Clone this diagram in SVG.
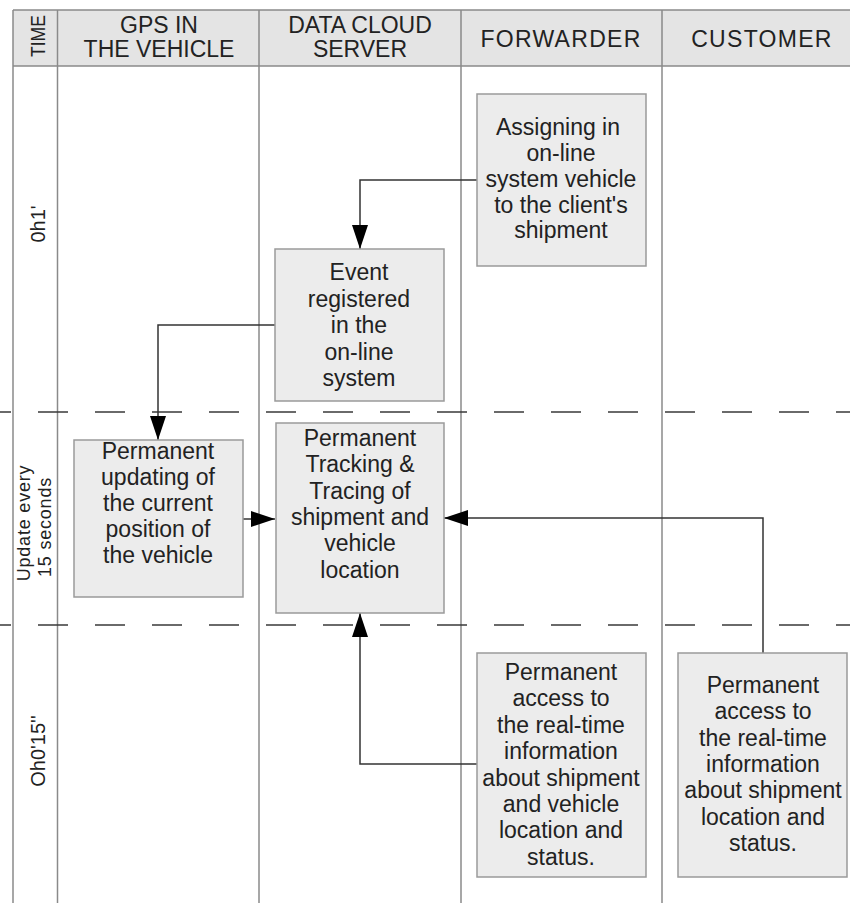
<svg xmlns="http://www.w3.org/2000/svg" width="850" height="903" viewBox="0 0 850 903">
<style>
.lane{stroke:#8a8a8a;stroke-width:1.5;fill:none}
.dash{stroke:#3a3a3a;stroke-width:1.5;stroke-dasharray:30 27;stroke-dashoffset:19;fill:none}
.box{fill:#ececec;stroke:#9a9a9a;stroke-width:1.5}
.t{font-family:"Liberation Sans",Arial,sans-serif;font-size:23px;fill:#222;text-anchor:middle}
.h{font-family:"Liberation Sans",Arial,sans-serif;font-size:23px;fill:#222;text-anchor:middle}
.side{font-family:"Liberation Sans",Arial,sans-serif;fill:#222;text-anchor:middle}
.conn{stroke:#333;stroke-width:1.5;fill:none}
</style>
<defs>
<marker id="arr" markerUnits="userSpaceOnUse" markerWidth="26" markerHeight="18" refX="24" refY="8" orient="auto">
<path d="M0,0 L24,8 L0,16 Z" fill="#000"/>
</marker>
</defs>
<rect x="0" y="0" width="850" height="903" fill="#fff"/>
<g id="header">
<rect x="13" y="10" width="837" height="56" fill="#e4e4e4"/>
<text class="side" font-size="20" transform="translate(45,36) rotate(-90)" textLength="42" lengthAdjust="spacingAndGlyphs">TIME</text>
<text class="h" x="159" y="33">GPS IN</text>
<text class="h" x="159" y="57">THE VEHICLE</text>
<text class="h" x="360" y="33">DATA CLOUD</text>
<text class="h" x="360" y="57">SERVER</text>
<text class="h" x="561" y="47" letter-spacing="1.3">FORWARDER</text>
<text class="h" x="762" y="47" letter-spacing="1.3">CUSTOMER</text>
</g>
<g id="lanes">
<line class="lane" x1="13" y1="10" x2="850" y2="10"/>
<line class="lane" x1="13" y1="66" x2="850" y2="66"/>
<line class="lane" x1="13" y1="10" x2="13" y2="903"/>
<line class="lane" x1="57.5" y1="10" x2="57.5" y2="903"/>
<line class="lane" x1="259" y1="10" x2="259" y2="903"/>
<line class="lane" x1="461" y1="10" x2="461" y2="903"/>
<line class="lane" x1="662" y1="10" x2="662" y2="903"/>
<line class="dash" x1="0" y1="412" x2="850" y2="412"/>
<line class="dash" x1="0" y1="625" x2="850" y2="625"/>
</g>
<g id="time-labels">
<text class="side" font-size="20" transform="translate(45,224) rotate(-90)">0h1'</text>
<text class="side" font-size="18" letter-spacing="0.8" transform="translate(30,523) rotate(-90)">Update every</text>
<text class="side" font-size="18" letter-spacing="0.8" transform="translate(51,527) rotate(-90)">15 seconds</text>
<text class="side" font-size="20" transform="translate(45,751) rotate(-90)">Oh0'15''</text>
</g>
<g id="connectors">
<polyline class="conn" points="477,180 360,180 360,249" marker-end="url(#arr)"/>
<polyline class="conn" points="275,325 158,325 158,440" marker-end="url(#arr)"/>
<line class="conn" x1="243" y1="519" x2="275" y2="519" marker-end="url(#arr)"/>
<polyline class="conn" points="763,653 763,518 444,518" marker-end="url(#arr)"/>
<polyline class="conn" points="477,764 360,764 360,613" marker-end="url(#arr)"/>
</g>
<g id="n-assign">
<rect class="box" x="477" y="94" width="169" height="172"/>
<text class="t" x="558" y="135">Assigning in</text>
<text class="t" x="561" y="161">on-line</text>
<text class="t" x="561" y="187">system vehicle</text>
<text class="t" x="561" y="213">to the client's</text>
<text class="t" x="561" y="238">shipment</text>
</g>
<g id="n-event">
<rect class="box" x="275" y="249" width="169" height="152"/>
<text class="t" x="359" y="280">Event</text>
<text class="t" x="359" y="307">registered</text>
<text class="t" x="359" y="333">in the</text>
<text class="t" x="359" y="360">on-line</text>
<text class="t" x="359" y="386">system</text>
</g>
<g id="n-gps">
<rect class="box" x="74" y="440" width="169" height="157"/>
<text class="t" x="158" y="459">Permanent</text>
<text class="t" x="158" y="485">updating of</text>
<text class="t" x="158" y="511">the current</text>
<text class="t" x="158" y="537">position of</text>
<text class="t" x="158" y="563">the vehicle</text>
</g>
<g id="n-tracking">
<rect class="box" x="276" y="423" width="168" height="190"/>
<text class="t" x="360" y="446">Permanent</text>
<text class="t" x="360" y="472">Tracking &amp;</text>
<text class="t" x="360" y="499">Tracing of</text>
<text class="t" x="360" y="525">shipment and</text>
<text class="t" x="360" y="551">vehicle</text>
<text class="t" x="360" y="578">location</text>
</g>
<g id="n-forwarder-access">
<rect class="box" x="477" y="653" width="169" height="224"/>
<text class="t" x="561" y="680">Permanent</text>
<text class="t" x="561" y="706">access to</text>
<text class="t" x="561" y="733">the real-time</text>
<text class="t" x="561" y="759">information</text>
<text class="t" x="561" y="786">about shipment</text>
<text class="t" x="561" y="812">and vehicle</text>
<text class="t" x="561" y="838">location and</text>
<text class="t" x="561" y="865">status.</text>
</g>
<g id="n-customer-access">
<rect class="box" x="678" y="653" width="169" height="224"/>
<text class="t" x="763" y="693">Permanent</text>
<text class="t" x="763" y="719">access to</text>
<text class="t" x="763" y="746">the real-time</text>
<text class="t" x="763" y="772">information</text>
<text class="t" x="763" y="798">about shipment</text>
<text class="t" x="763" y="825">location and</text>
<text class="t" x="763" y="851">status.</text>
</g>
</svg>
